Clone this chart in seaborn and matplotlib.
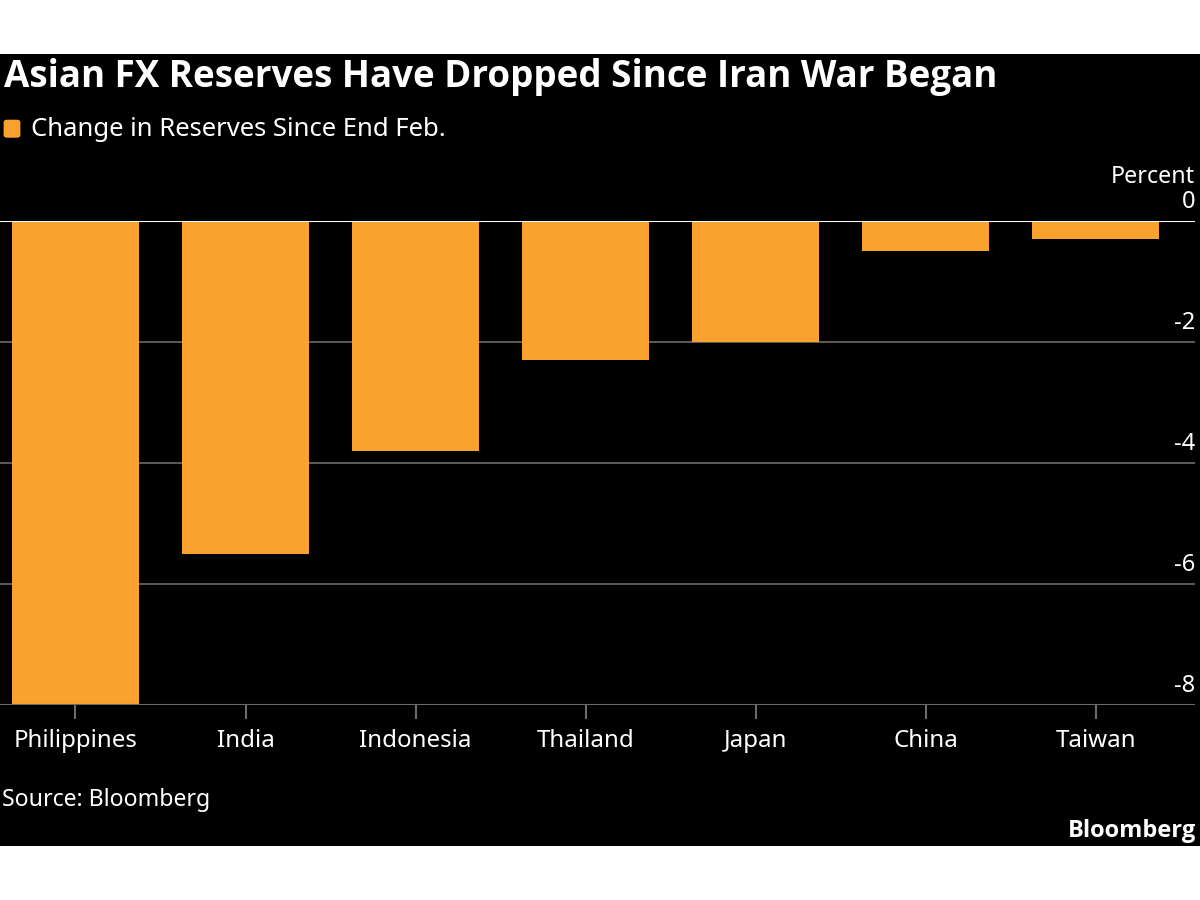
import matplotlib
matplotlib.use("Agg")
import matplotlib.pyplot as plt
import matplotlib.patches as mpatches
from matplotlib import font_manager
import seaborn as sns
import pandas as pd

countries = ["Philippines", "India", "Indonesia", "Thailand", "Japan", "China", "Taiwan"]
change_pct = [-8.0, -5.5, -3.8, -2.3, -2.0, -0.5, -0.3]
y_ticks = [0, -2, -4, -6, -8]
y_tick_labels = ["0", "-2", "-4", "-6", "-8"]

title = "Asian FX Reserves Have Dropped Since Iran War Began"
legend_label = "Change in Reserves Since End Feb."
source = "Source: Bloomberg"

BAR = "#FAA22E"
GRID = "#6b6b6b"

avail = {f.name for f in font_manager.fontManager.ttflist}
narrow = "Liberation Sans Narrow" if "Liberation Sans Narrow" in avail else "Noto Sans"
bold_font = "Open Sans" if "Open Sans" in avail else "DejaVu Sans"

sns.set_theme(style="dark")
plt.rcParams["font.family"] = [narrow, "DejaVu Sans"]

df = pd.DataFrame({"country": countries, "change": change_pct})

fig = plt.figure(figsize=(12, 9), dpi=100, facecolor="white")
fig.patches.append(mpatches.Rectangle((0, 0.06), 1, 0.88, transform=fig.transFigure,
                                      facecolor="black", edgecolor="none", zorder=-10))

ax = fig.add_axes([0.0, 0.2167, 0.996, 0.7544 - 0.2167])
ax.set_facecolor("black")
sns.barplot(data=df, x="country", y="change", color=BAR, saturation=1, width=0.75, ax=ax,
            zorder=2, edgecolor="none", linewidth=0)

ax.set_xlim(-0.444, 6.585)
ax.set_ylim(-8, 0)
ax.set_xlabel("")
ax.set_ylabel("")
for s in ax.spines.values():
    s.set_visible(False)

ax.set_yticks(y_ticks)
ax.set_yticklabels([])
ax.tick_params(axis="y", length=0, left=False, right=False)
for yv, lab in zip(y_ticks, y_tick_labels):
    if yv != 0 and yv != -8:
        ax.axhline(yv, color=GRID, lw=1.2, zorder=1)
    ax.annotate(lab, xy=(1, yv), xycoords=("axes fraction", "data"), xytext=(0, 5),
                textcoords="offset points", ha="right", va="bottom", color="white", fontsize=17)
ax.axhline(0, color="white", lw=1.5, zorder=3)
ax.axhline(-8, color=GRID, lw=1.5, zorder=3)
ax.grid(False)

ax.tick_params(axis="x", colors=GRID, length=10, width=1.5, direction="out", bottom=True, pad=7,
               labelcolor="white", labelsize=17.3)

ax.annotate("Percent", xy=(1, 0), xycoords=("axes fraction", "data"), xytext=(0, 23),
            textcoords="offset points", ha="right", va="bottom", color="white", fontsize=16.8)

fig.text(0.003, 0.915, title, color="white", fontsize=26.5, fontweight="bold",
         family=[bold_font, "DejaVu Sans"], va="center", ha="left")
fig.patches.append(mpatches.FancyBboxPatch((0.003, 0.847), 0.014, 0.02, transform=fig.transFigure,
                                           boxstyle="round,pad=0,rounding_size=0.003",
                                           facecolor=BAR, edgecolor="none"))
fig.text(0.026, 0.856, legend_label, color="white", fontsize=18.5, va="center", ha="left")
fig.text(0.002, 0.111, source, color="white", fontsize=16.6, va="center", ha="left")
fig.text(0.997, 0.077, "Bloomberg", color="white", fontsize=17, fontweight="bold",
         family=[bold_font, "DejaVu Sans"], va="center", ha="right")

fig.savefig("out.png", dpi=100, facecolor="white")
